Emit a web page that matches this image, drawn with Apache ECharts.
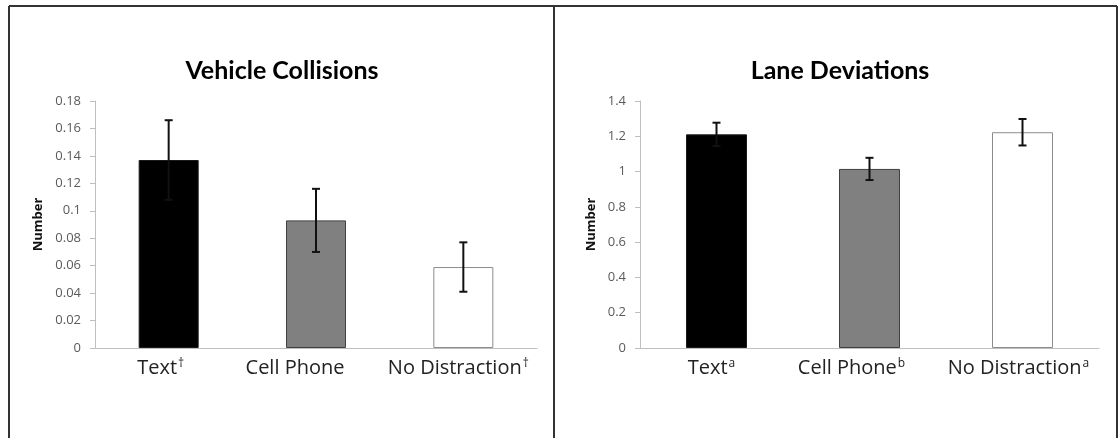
<!DOCTYPE html>
<html>
<head>
<meta charset="utf-8">
<script src="https://cdn.jsdelivr.net/npm/echarts@6/dist/echarts.min.js"></script>
<style>
html,body{margin:0;padding:0;background:#fff;}
#c{width:1118px;height:438px;}
</style>
</head>
<body>
<div id="c"></div>
<script>
// ---- data ----
const categories = ['Text', 'Cell Phone', 'No Distraction'];
const collisionMarks = ['†', '', '†'];
const laneMarks = ['a', 'b', 'a'];
const collisionValues = [0.137, 0.093, 0.059];
const collisionErrors = [0.029, 0.023, 0.018];
const laneValues = [1.211, 1.015, 1.223];
const laneErrors = [0.066, 0.063, 0.075];
const collisionTicks = { min: 0, max: 0.18, interval: 0.02 };
const laneTicks = { min: 0, max: 1.4, interval: 0.2 };

const barStyles = [
  { color: '#000000', borderColor: '#1a1a1a', borderWidth: 1 },
  { color: '#808080', borderColor: '#404040', borderWidth: 1 },
  { color: '#ffffff', borderColor: '#8c8c8c', borderWidth: 1 }
];
// label offsets to the left (style only), per category slot
const labelGapKeys = ['g0', 'g1', 'g2'];

const SANS = '"Open Sans", sans-serif';
const TITLE_FONT = 'Lato, "Open Sans", sans-serif';

function barData(values) {
  return values.map((v, i) => ({ value: v, itemStyle: barStyles[i] }));
}
function errData(values, errs) {
  return values.map((v, i) => [i, v - errs[i], v + errs[i]]);
}
function errRender(params, api) {
  const x = api.value(0);
  const lo = api.coord([x, api.value(1)]);
  const hi = api.coord([x, api.value(2)]);
  const w = 4;
  const st = { stroke: '#111', lineWidth: 2 };
  return {
    type: 'group',
    children: [
      { type: 'line', shape: { x1: hi[0], y1: hi[1], x2: lo[0], y2: lo[1] }, style: st },
      { type: 'line', shape: { x1: hi[0] - w, y1: hi[1], x2: hi[0] + w, y2: hi[1] }, style: st },
      { type: 'line', shape: { x1: lo[0] - w, y1: lo[1], x2: lo[0] + w, y2: lo[1] }, style: st }
    ]
  };
}
function xAxis(gridIndex, marks, gaps) {
  return {
    type: 'category', gridIndex, data: categories,
    axisLine: { lineStyle: { color: '#bfbfbf', width: 1 } },
    axisTick: { show: false },
    axisLabel: {
      interval: 0, hideOverlap: false, margin: 10,
      formatter: (v, i) => '{m|' + v + '}' + (marks[i] ? '{s|' + marks[i] + '}' : '') + '{' + labelGapKeys[i] + '|\u00a0}',
      rich: {
        m: { fontFamily: SANS, fontSize: 20, color: '#222' },
        s: { fontFamily: SANS, fontSize: 12, color: '#222', verticalAlign: 'top', padding: [0, 0, 7, 1] },
        g0: { width: gaps[0], fontSize: 12 },
        g1: { width: gaps[1], fontSize: 12 },
        g2: { width: gaps[2], fontSize: 12 }
      }
    }
  };
}
function yAxis(gridIndex, t, nameGap) {
  return {
    type: 'value', gridIndex, min: t.min, max: t.max, interval: t.interval,
    name: 'Number', nameLocation: 'middle', nameRotate: 90, nameGap,
    nameTextStyle: { fontFamily: SANS, fontSize: 13, fontWeight: 'bold', color: '#111' },
    axisLine: { show: true, lineStyle: { color: '#bfbfbf', width: 1 } },
    axisTick: { show: true, length: 5, lineStyle: { color: '#bfbfbf' } },
    splitLine: { show: false },
    axisLabel: {
      margin: 14, fontFamily: SANS, fontSize: 13, color: '#5a5a5a',
      formatter: v => String(+v.toFixed(2))
    }
  };
}

const chart = echarts.init(document.getElementById('c'));
const borderStyle = { stroke: '#333', lineWidth: 2 };
chart.setOption({
  backgroundColor: '#fff',
  animation: false,
  title: [
    { text: 'Vehicle Collisions', left: 277, top: 53, textAlign: 'center',
      textStyle: { fontFamily: TITLE_FONT, fontSize: 25, fontWeight: 'bold', color: '#000' } },
    { text: 'Lane Deviations', left: 835, top: 53, textAlign: 'center',
      textStyle: { fontFamily: TITLE_FONT, fontSize: 25, fontWeight: 'bold', color: '#000' } }
  ],
  grid: [
    { left: 95, right: 581, top: 101, bottom: 90 },
    { left: 640, right: 19, top: 101, bottom: 90 }
  ],
  xAxis: [xAxis(0, collisionMarks, [16, 42, 10]), xAxis(1, laneMarks, [10, 36, 8])],
  yAxis: [yAxis(0, collisionTicks, 50), yAxis(1, laneTicks, 42)],
  series: [
    { type: 'bar', xAxisIndex: 0, yAxisIndex: 0, barWidth: 60, data: barData(collisionValues) },
    { type: 'custom', xAxisIndex: 0, yAxisIndex: 0, renderItem: errRender, data: errData(collisionValues, collisionErrors), z: 5 },
    { type: 'bar', xAxisIndex: 1, yAxisIndex: 1, barWidth: 61, data: barData(laneValues) },
    { type: 'custom', xAxisIndex: 1, yAxisIndex: 1, renderItem: errRender, data: errData(laneValues, laneErrors), z: 5 }
  ],
  graphic: [
    { type: 'line', shape: { x1: 9, y1: 6, x2: 1117, y2: 6 }, style: borderStyle },
    { type: 'line', shape: { x1: 9, y1: 6, x2: 9, y2: 438 }, style: borderStyle },
    { type: 'line', shape: { x1: 554, y1: 6, x2: 554, y2: 438 }, style: borderStyle },
    { type: 'line', shape: { x1: 1117, y1: 6, x2: 1117, y2: 438 }, style: borderStyle }
  ]
});
</script>
</body>
</html>
